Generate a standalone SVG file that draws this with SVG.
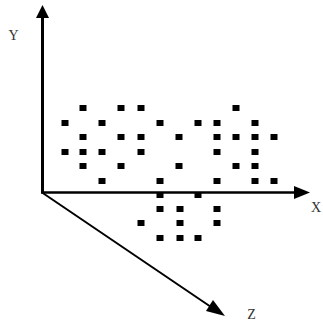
<svg xmlns="http://www.w3.org/2000/svg" width="323" height="329" viewBox="0 0 323 329">
<style>
.ax{stroke:#000;fill:none}
.lbl{font-family:"Liberation Serif","Times New Roman",serif;font-size:14px;fill:#333;text-anchor:middle}
.d{fill:#000}
</style>
<defs>
<rect id="s" x="-3.5" y="-3" width="7" height="6"/>
</defs>
<rect width="323" height="329" fill="#fff"/>
<g id="connectors">
<line class="ax" x1="42.5" y1="193" x2="42.5" y2="16" stroke-width="3"/>
<polygon points="42.5,5 36,18 49,18" fill="#000"/>
<line class="ax" x1="41" y1="192.5" x2="296" y2="192.5" stroke-width="2.5"/>
<polygon points="310,192.5 294,186 294,199" fill="#000"/>
<line class="ax" x1="42" y1="192.5" x2="214" y2="309" stroke-width="2"/>
<polygon points="225,316 206,311 213,300" fill="#000"/>
</g>
<g id="label-y"><text class="lbl" x="13.5" y="39.5">Y</text></g>
<g id="label-x"><text class="lbl" x="316" y="212">X</text></g>
<g id="label-z"><text class="lbl" x="251.5" y="318.5">Z</text></g>
<g id="points" class="d">
<use href="#s" x="83" y="108"/><use href="#s" x="121" y="108"/><use href="#s" x="141" y="108"/><use href="#s" x="236" y="108"/>
<use href="#s" x="65" y="123"/><use href="#s" x="102" y="123"/><use href="#s" x="160" y="123"/><use href="#s" x="198" y="123"/><use href="#s" x="217" y="123"/><use href="#s" x="255" y="123"/>
<use href="#s" x="83" y="137"/><use href="#s" x="121" y="137"/><use href="#s" x="141" y="137"/><use href="#s" x="179" y="137"/><use href="#s" x="217" y="137"/><use href="#s" x="236" y="137"/><use href="#s" x="255" y="137"/><use href="#s" x="274" y="137"/>
<use href="#s" x="65" y="152"/><use href="#s" x="83" y="152"/><use href="#s" x="102" y="152"/><use href="#s" x="141" y="152"/><use href="#s" x="217" y="152"/><use href="#s" x="255" y="152"/>
<use href="#s" x="83" y="166"/><use href="#s" x="121" y="166"/><use href="#s" x="179" y="166"/><use href="#s" x="236" y="166"/><use href="#s" x="255" y="166"/>
<use href="#s" x="102" y="181"/><use href="#s" x="160" y="181"/><use href="#s" x="217" y="181"/><use href="#s" x="255" y="181"/><use href="#s" x="274" y="181"/>
<use href="#s" x="160" y="195"/><use href="#s" x="198" y="195"/>
<use href="#s" x="160" y="209"/><use href="#s" x="180" y="209"/><use href="#s" x="217" y="209"/>
<use href="#s" x="141" y="223"/><use href="#s" x="180" y="223"/><use href="#s" x="217" y="223"/>
<use href="#s" x="160" y="238"/><use href="#s" x="180" y="238"/><use href="#s" x="198" y="238"/>
</g>
</svg>
